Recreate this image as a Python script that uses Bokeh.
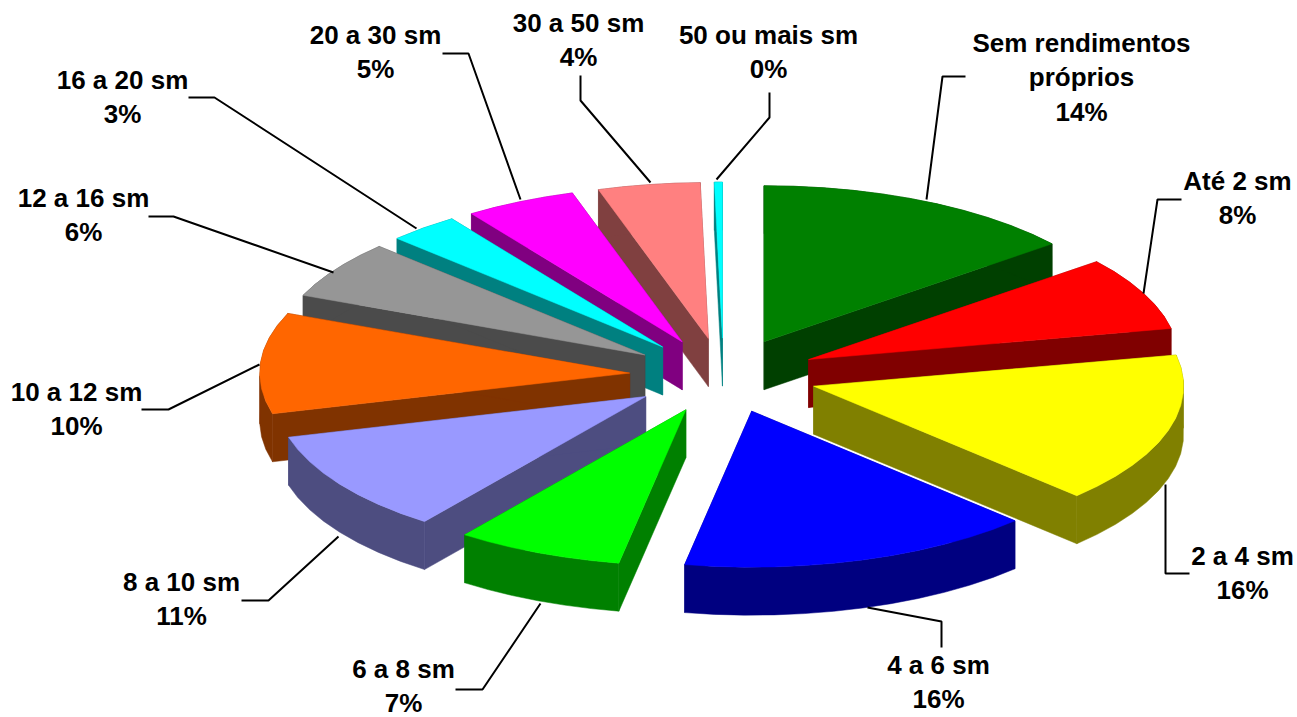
import math

from bokeh.core.properties import value
from bokeh.embed import file_html
from bokeh.models import ColumnDataSource, Range1d
from bokeh.plotting import figure
from bokeh.resources import INLINE

# Distribution by income bracket, clockwise from twelve o'clock
categories = [
    "Sem rendimentos próprios", "Até 2 sm", "2 a 4 sm", "4 a 6 sm", "6 a 8 sm",
    "8 a 10 sm", "10 a 12 sm", "12 a 16 sm", "16 a 20 sm", "20 a 30 sm",
    "30 a 50 sm", "50 ou mais sm",
]
shares = [14.2, 7.6, 15.6, 15.5, 7.3, 10.6, 10.45, 6.0, 3.1, 4.85, 4.45, 0.35]
top_colors = [
    "#008000", "#FF0000", "#FFFF00", "#0000FF", "#00FF00", "#9999FF",
    "#FF6600", "#969696", "#00FFFF", "#FF00FF", "#FF8080", "#00FFFF",
]
side_colors = [
    "#004000", "#800000", "#808000", "#000080", "#008000", "#4D4D80",
    "#803300", "#4B4B4B", "#008080", "#800080", "#804040", "#008080",
]

# Label placement: wrapped lines of the name, centre x, y of first line, line step
label_lines = [
    ["Sem rendimentos", "próprios"], ["Até 2 sm"], ["2 a 4 sm"], ["4 a 6 sm"],
    ["6 a 8 sm"], ["8 a 10 sm"], ["10 a 12 sm"], ["12 a 16 sm"], ["16 a 20 sm"],
    ["20 a 30 sm"], ["30 a 50 sm"], ["50 ou mais sm"],
]
label_x = [1081, 1237, 1242, 938, 403, 181, 76, 83, 122, 375, 578, 768]
label_y = [42, 180, 555, 664, 668, 581, 391, 197, 79, 34, 22, 34]
LINE_STEP = 34.5

leaders = [
    [(965, 76), (942, 76), (926, 199)],
    [(1181, 199), (1157, 199), (1143, 293)],
    [(1189, 573), (1165, 573), (1165, 484)],
    [(941, 647), (941, 621), (867, 607)],
    [(455, 689), (482, 689), (540, 603)],
    [(241, 600), (268, 600), (338, 536)],
    [(141, 409), (168, 409), (259, 364)],
    [(148, 216), (173, 216), (333, 272)],
    [(188, 97), (214, 97), (416, 228)],
    [(442, 53), (468, 53), (520, 199)],
    [(580, 75), (580, 100), (650, 182)],
    [(769, 92), (769, 117), (716, 179)],
]

# Projection of the tilted, exploded pie
CX, CY = 723, 375
EXPLODE_X, EXPLODE_Y = 94, 37.4
RX, RY = 370, 156
DEPTH = 48
FACET_DEG = 4.5


def slice_outline(start_deg, end_deg):
    """Apex and rim points of one slice's top face, in page pixels."""
    mid = math.radians((start_deg + end_deg) / 2)
    ax = CX + EXPLODE_X * math.sin(mid)
    ay = CY - EXPLODE_Y * math.cos(mid)
    steps = max(1, round((end_deg - start_deg) / FACET_DEG))
    rim = []
    for k in range(steps + 1):
        a = math.radians(start_deg + (end_deg - start_deg) * k / steps)
        rim.append((ax + RX * math.sin(a), ay - RY * math.cos(a)))
    return (ax, ay), rim


def monotonic_runs(points):
    """Split a rim polyline where its horizontal direction turns back."""
    runs, current = [], [points[0]]
    direction = 0
    for a, b in zip(points, points[1:]):
        d = 1 if b[0] >= a[0] else -1
        if direction and d != direction:
            runs.append(current)
            current = [a]
        current.append(b)
        direction = d
    runs.append(current)
    return runs


def extrude(points):
    """Vertical wall hanging below a polyline, as one polygon."""
    xs = [q[0] for q in points] + [q[0] for q in reversed(points)]
    ys = [q[1] for q in points] + [q[1] + DEPTH for q in reversed(points)]
    return xs, ys


total = sum(shares)
slices = []
angle = 0.0
for i, share in enumerate(shares):
    sweep = 360 * share / total
    apex, rim = slice_outline(angle, angle + sweep)
    slices.append((apex, rim, top_colors[i], side_colors[i]))
    angle += sweep

p = figure(
    width=1297, height=717, output_backend="svg", toolbar_location=None,
    x_range=Range1d(0, 1297), y_range=Range1d(717, 0),
    min_border=0, outline_line_color=None, background_fill_color="white",
)
p.axis.visible = False
p.grid.visible = False

# Painter's order: slices further back are drawn first
for apex, rim, top, side in sorted(slices, key=lambda s: s[0][1]):
    walls = [[apex, rim[0]], [apex, rim[-1]]] + monotonic_runs(rim)
    for wall in walls:
        wx, wy = extrude(wall)
        p.patch(wx, wy, fill_color=side, line_color=side, line_width=0.5)
    outline = [apex] + rim
    p.patch([q[0] for q in outline], [q[1] for q in outline],
            fill_color=top, line_color=top, line_width=0.5)

# Leader lines
p.multi_line(
    [[q[0] for q in path] for path in leaders],
    [[q[1] for q in path] for path in leaders],
    line_color="black", line_width=2,
)

# Labels: name lines followed by the rounded percentage
txt_x, txt_y, txt = [], [], []
for lines, x, y, share in zip(label_lines, label_x, label_y, shares):
    rows = lines + [f"{round(share)}%"]
    for k, row in enumerate(rows):
        txt_x.append(x)
        txt_y.append(y + k * LINE_STEP)
        txt.append(row)
p.text(
    "x", "y", "t",
    source=ColumnDataSource(dict(x=txt_x, y=txt_y, t=txt)),
    text_font=value("Liberation Sans"), text_font_style="bold",
    text_font_size="26px", text_color="black",
    text_align="center", text_baseline="middle",
)

open("out.html", "w").write(file_html(p, INLINE))
